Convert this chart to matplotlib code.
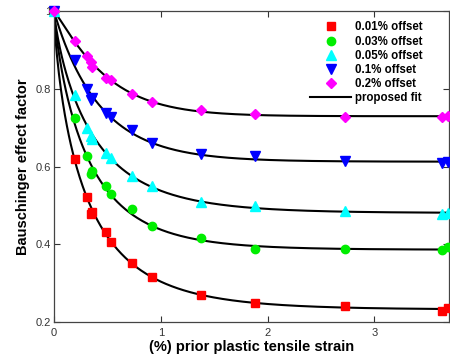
import numpy as np
import matplotlib
matplotlib.use("Agg")
import matplotlib.pyplot as plt
from matplotlib.lines import Line2D

plt.rcParams['font.family'] = ['Liberation Sans', 'DejaVu Sans']

strain = [0, 0.196, 0.31, 0.345, 0.355, 0.49, 0.53, 0.735, 0.922, 1.374, 1.885, 2.726, 3.638, 3.69]
bef_001 = [1, 0.620, 0.521, 0.478, 0.482, 0.432, 0.407, 0.351, 0.315, 0.270, 0.248, 0.242, 0.227, 0.237]
bef_003 = [1, 0.726, 0.627, 0.582, 0.588, 0.549, 0.530, 0.491, 0.446, 0.416, 0.388, 0.388, 0.386, 0.392]
bef_005 = [1, 0.783, 0.700, 0.678, 0.672, 0.634, 0.622, 0.575, 0.549, 0.509, 0.499, 0.485, 0.478, 0.480]
bef_01 = [1, 0.874, 0.799, 0.770, 0.777, 0.739, 0.727, 0.693, 0.661, 0.633, 0.627, 0.614, 0.610, 0.612]
bef_02 = [1, 0.922, 0.885, 0.870, 0.856, 0.827, 0.822, 0.786, 0.766, 0.745, 0.734, 0.727, 0.728, 0.730]

labels = ['0.01% offset', '0.03% offset', '0.05% offset', '0.1% offset', '0.2% offset']
series = [bef_001, bef_003, bef_005, bef_01, bef_02]
colors = ['#ff0000', '#00ee00', '#00ffff', '#0000ff', '#ff00ff']
markers = ['s', 'o', '^', 'v', 'D']
msizes = [6, 6, 6.5, 6.5, 5]


def fit_curve(x, y):
    # least-squares fit of y = a + (1-a) * exp(-(x/b)^p) by grid search
    x = np.asarray(x, float)
    y = np.asarray(y, float)
    A = np.linspace(min(y) - 0.08, min(y) + 0.02, 41)[:, None, None, None]
    B = np.linspace(0.05, 1.2, 70)[None, :, None, None]
    P = np.linspace(0.5, 1.3, 33)[None, None, :, None]
    pred = A + (1 - A) * np.exp(-(x[None, None, None, :] / B) ** P)
    err = ((pred - y) ** 2).sum(axis=-1)
    i, j, k = np.unravel_index(np.argmin(err), err.shape)
    return A[i, 0, 0, 0], B[0, j, 0, 0], P[0, 0, k, 0]


fig = plt.figure(figsize=(4.5, 3.58), dpi=100)
ax = fig.add_axes([0.12, 0.1006, 0.878, 0.8684])

xx = np.linspace(0, 3.7, 400)
for y in series:
    a, b, p = fit_curve(strain, y)
    ax.plot(xx, a + (1 - a) * np.exp(-(xx / b) ** p), color='black', lw=1.5, zorder=2)

for y, c, m, ms in zip(series, colors, markers, msizes):
    ax.plot(strain, y, linestyle='none', marker=m, color=c, markersize=ms,
            markeredgecolor=c, zorder=3, clip_on=False)

ax.set_xlim(0, 3.7)
ax.set_ylim(0.2, 1.0)
ax.set_xticks([0, 1, 2, 3])
ax.set_yticks([0.2, 0.4, 0.6, 0.8, 1.0])
ax.set_yticklabels(['0.2', '0.4', '0.6', '0.8', '1'])
ax.tick_params(direction='in', top=True, right=True, labelsize=8, length=4,
               width=0.8, colors='#333333')
ax.tick_params(axis='x', pad=4)
ax.tick_params(axis='y', pad=2)
for s in ax.spines.values():
    s.set_color('#444444')
    s.set_linewidth(0.9)

ax.set_xlabel('(%) prior plastic tensile strain', fontsize=10.5, fontweight='bold', labelpad=2)
ax.set_ylabel('Bauschinger effect factor', fontsize=10.5, fontweight='bold', labelpad=4)

handles = [Line2D([], [], linestyle='none', marker=m, color=c, markersize=ms)
           for c, m, ms in zip(colors, markers, msizes)]
handles.append(Line2D([], [], color='black', lw=1.5))
leg = ax.legend(handles, labels + ['proposed fit'], loc='upper right',
                bbox_to_anchor=(0.96, 1.0), frameon=False,
                prop={'weight': 'bold', 'size': 8.3}, handlelength=3.5,
                handletextpad=0.4, labelspacing=0.18)

fig.savefig('out.png', dpi=100)
